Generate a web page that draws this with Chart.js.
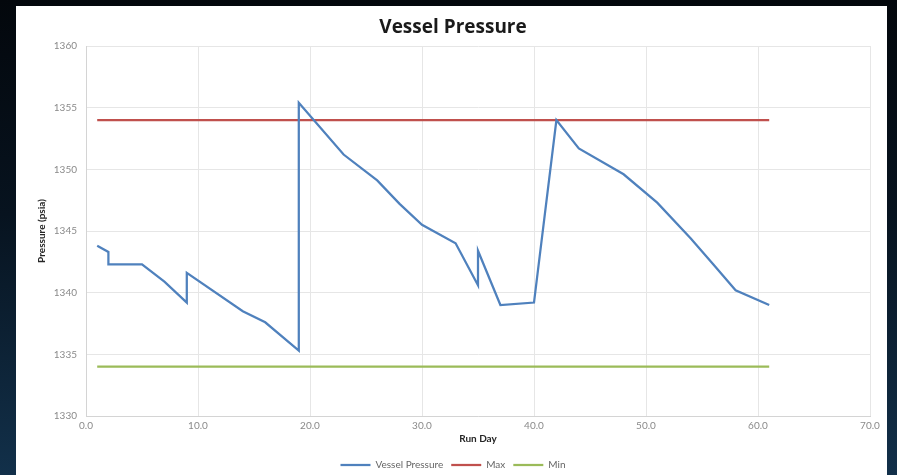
<!DOCTYPE html>
<html>
<head>
<meta charset="utf-8">
<script src="https://cdn.jsdelivr.net/npm/chart.js@4.4.1/dist/chart.umd.min.js"></script>
<style>
  html, body { margin: 0; padding: 0; }
  body {
    width: 897px; height: 475px; overflow: hidden; position: relative;
    background: linear-gradient(180deg, #03070c 0%, #07131f 45%, #12304a 100%);
  }
  #card {
    position: absolute; left: 16px; top: 6px; width: 871px; height: 469px;
    background: #ffffff;
  }
</style>
</head>
<body>
<div id="card"><canvas id="chart"></canvas></div>
<script>
// vessel pressure readings (run day, psia)
const runDay = [1, 2, 2, 5, 7, 9, 9, 14, 16, 19, 19, 23, 26, 28, 30, 33, 35, 35, 37, 40, 42, 44, 48, 51, 54, 56, 58, 61];
const vesselPressure = [1343.8, 1343.3, 1342.3, 1342.3, 1340.9, 1339.2, 1341.6, 1338.5, 1337.6, 1335.3, 1355.4, 1351.2,
  1349.1, 1347.2, 1345.5, 1344.0, 1340.6, 1343.4, 1339.0, 1339.2, 1354.0, 1351.7, 1349.6, 1347.3, 1344.4, 1342.3, 1340.2, 1339.0];

// limits
const limitDays = [1, 61];
const maxPressure = [1354, 1354];
const minPressure = [1334, 1334];

const FONT = 'Lato, "Open Sans", sans-serif';
const COLORS = ['#4f81bd', '#c0504d', '#9bbb59'];

const toPoints = (xs, ys) => xs.map((x, i) => ({ x: x, y: ys[i] }));

const ctx = document.getElementById('chart');
new Chart(ctx, {
    type: 'scatter',
    data: {
        datasets: [
            { label: 'Vessel Pressure', data: toPoints(runDay, vesselPressure), borderColor: COLORS[0], backgroundColor: COLORS[0] },
            { label: 'Max', data: toPoints(limitDays, maxPressure), borderColor: COLORS[1], backgroundColor: COLORS[1] },
            { label: 'Min', data: toPoints(limitDays, minPressure), borderColor: COLORS[2], backgroundColor: COLORS[2] }
        ].map(d => Object.assign(d, {
            showLine: true, borderWidth: 2.25, pointRadius: 0, pointHoverRadius: 0,
            pointStyle: 'line', tension: 0, fill: false
        }))
    },
    options: {
        responsive: true,
        maintainAspectRatio: false,
        devicePixelRatio: 1,
        animation: false,
        // legend sits a little lower than chart.js would put it
        layout: { padding: { left: 20, right: 17, top: 0, bottom: -5 } },
        plugins: {
            tooltip: { enabled: false },
            title: {
                display: true,
                text: 'Vessel Pressure',
                color: '#1a1a1a',
                font: { family: '"Open Sans", sans-serif', size: 19, weight: 'bold', lineHeight: 1.2 },
                padding: { top: 10, bottom: 7.2 }
            },
            legend: {
                position: 'bottom',
                labels: {
                    usePointStyle: true,
                    pointStyleWidth: 30,
                    boxHeight: 10,
                    padding: 8,
                    color: '#666666',
                    font: { family: FONT, size: 10 }
                }
            }
        },
        scales: {
            x: {
                type: 'linear',
                min: 0, max: 70,
                ticks: {
                    stepSize: 10, padding: 4, color: '#8a8a8a',
                    font: { family: FONT, size: 10 },
                    callback: v => v.toFixed(1)
                },
                grid: { color: '#e6e6e6', drawTicks: false },
                border: { color: '#d4d4d4' },
                title: {
                    display: true, text: 'Run Day', color: '#262626',
                    font: { family: FONT, size: 10, weight: 'bold' },
                    padding: { top: 0, bottom: 7 }
                },
                afterFit: s => { s.height = 36; }
            },
            y: {
                min: 1330, max: 1360,
                ticks: {
                    stepSize: 5, padding: 9, color: '#8a8a8a',
                    font: { family: FONT, size: 10 },
                    callback: v => String(v)
                },
                grid: { color: '#e6e6e6', drawTicks: false },
                border: { color: '#d4d4d4' },
                title: {
                    display: true, text: 'Pressure (psia)', color: '#262626',
                    font: { family: FONT, size: 10, weight: 'bold' },
                    padding: 0
                },
                afterFit: s => { s.width = 50; }
            }
        }
    }
});
</script>
</body>
</html>
